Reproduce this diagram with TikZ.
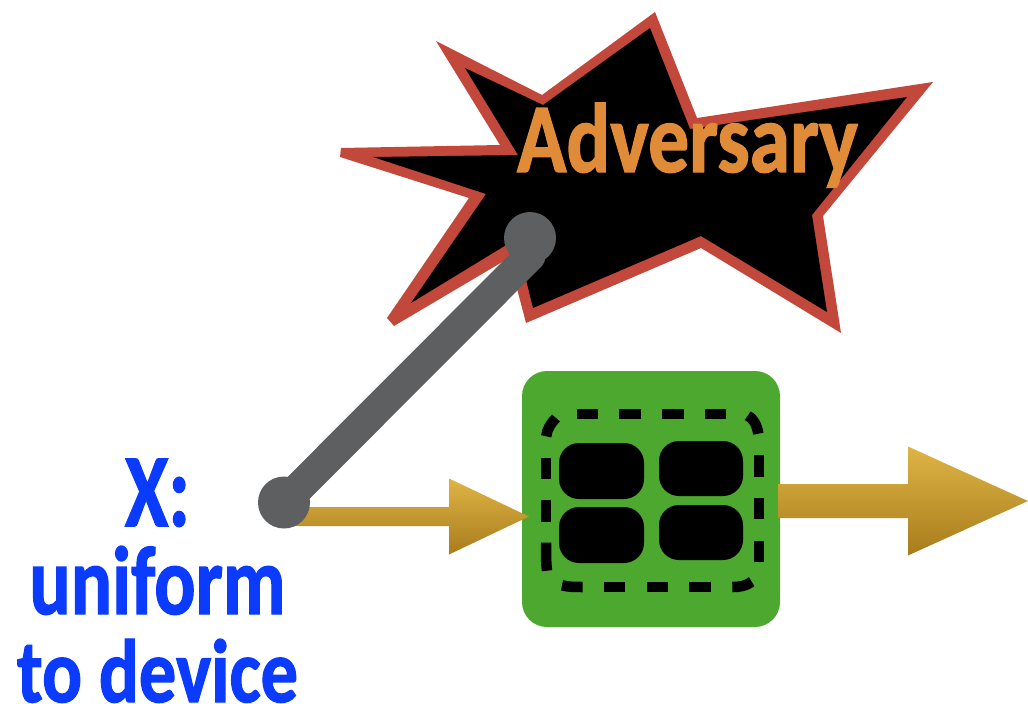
\documentclass[tikz,border=0pt]{standalone}
\usepackage{fontspec}
\usetikzlibrary{calc}
\newfontfamily\handfont[BoldFeatures={FakeBold=1.5}]{Carlito}
\definecolor{starred}{HTML}{C2483B}
\definecolor{labelorange}{HTML}{DF8B38}
\definecolor{wireGray}{HTML}{5E5F61}
\definecolor{chipgreen}{HTML}{4CA82F}
\definecolor{labelblue}{HTML}{0A3BFF}
\definecolor{goldtop}{HTML}{DFB445}
\definecolor{goldbottom}{HTML}{A87C1C}
\tikzset{
  x=1pt,y=-1pt,
  handlabel/.style={inner sep=0pt,outer sep=0pt,font=\handfont\bfseries},
  cell/.style={fill=black,rounded corners=20pt},
  wire/.style={draw=wireGray,line width=31pt,line cap=round},
  dot/.style={circle,fill=wireGray,inner sep=0pt,minimum size=52pt},
  gold/.style={top color=goldtop,bottom color=goldbottom,draw=none},
}
% Block arrow from #1 to #2 along a horizontal line: shaft half-width #3,
% head half-width #4, head length #5
\newcommand{\blockarrow}[5]{
  \shade[gold] ($(#1)+(0,-#3)$) -- ($(#2)+(-#5,-#3)$) -- ($(#2)+(-#5,-#4)$)
    -- (#2) -- ($(#2)+(-#5,#4)$) -- ($(#2)+(-#5,#3)$) -- ($(#1)+(0,#3)$) -- cycle;
}
\begin{document}
\begin{tikzpicture}
\useasboundingbox (0,0) rectangle (1028,704);

% Burst: red outline with the black interior laid over it
\fill[starred] (655,12) -- (697,118) -- (933,82) -- (823,216) -- (841,333)
  -- (701,248) -- (526,323) -- (509,258) -- (394,326) -- (387,318)
  -- (469,198) -- (340,157) -- (341,148) -- (500,145) -- (436,41) -- (542,95) -- cycle;
\fill[black] (650,28) -- (690,129) -- (907,97) -- (812,215) -- (827,312)
  -- (701,236) -- (533,308) -- (516,239) -- (411,303) -- (486,194) -- (373,157)
  -- (518,155) -- (465,68) -- (543,105) -- cycle;
\node[handlabel,text=labelorange,anchor=base west] (adversary) at (517,172)
  {\resizebox{341pt}{69pt}{Adversary}};

% Device block
\node[fill=chipgreen,rounded corners=25pt,inner sep=0pt,outer sep=0pt,
      minimum width=258pt,minimum height=256pt] (device) at (651,499) {};

% Dashed boundary, laid out dash by dash so the corners fall on curved dashes
\begin{scope}[line width=10.5pt]
  \foreach \a/\b in {576.7/598.3,619.3/641,662.3/683.7,705/726.3}
    \draw (\a,414) -- (\b,414);
  \foreach \a/\b in {604/625.3,646.7/668,689.3/710.7}
    \draw (\a,587) -- (\b,587);
  \foreach \a/\b in {455/476.7,497.7/519,540.7/562}
    \draw (759,\a) -- (759,\b);
  \foreach \a/\b in {457.7/479,500/521.7}
    \draw (546,\a) -- (546,\b);
  \draw (747.7,415.7) .. controls (753,418) and (757,425) .. (758.3,433.7);
  \draw (751.7,581.7) .. controls (746,586) and (740,587) .. (732.3,587);
  \draw (582.7,587) .. controls (575,587) and (568,587) .. (562,585.3);
  \draw (546,542.7) .. controls (546,555) and (546,563) .. (547,570.7);
  \draw (546.2,436.3) .. controls (547,429) and (551,423) .. (556,418);
\end{scope}

% Four cells
\fill[cell] (559,443) rectangle (644,499);
\fill[cell] (559,507) rectangle (644,563);
\fill[cell] (659,441) rectangle (743,496);
\fill[cell] (659,505) rectangle (743,560);

% Input and output block arrows
\coordinate (inStart) at (290,516.5);
\coordinate (inTip) at (529,516.5);
\coordinate (outStart) at (778,501);
\coordinate (outTip) at (1028,501);
\blockarrow{inStart}{inTip}{9.5}{38}{80}
\blockarrow{outStart}{outTip}{17}{54.5}{120}

% Probe wire from the source point up into the burst
\node[dot] (source) at (284,502.5) {};
\node[dot] (probe) at (530,238) {};
\coordinate (probeJoin) at (530,256);
\draw[wire] (source.center) -- (probeJoin);

% Source label
\node[handlabel,text=labelblue,align=center,anchor=south,text depth=0pt,
      font=\handfont\bfseries\fontsize{60}{88}\selectfont] (sourcelabel) at (157.5,702)
  {\resizebox{65pt}{67pt}{X:}\\
   \resizebox{256pt}{68pt}{uniform}\\
   \resizebox{281pt}{63pt}{to device}};
\end{tikzpicture}
\end{document}
